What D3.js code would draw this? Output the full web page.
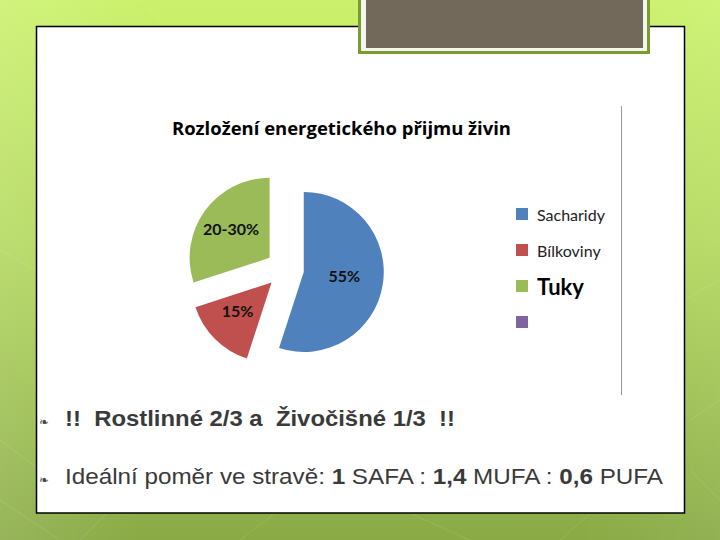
<!DOCTYPE html>
<html><head><meta charset="utf-8">
<script src="https://d3js.org/d3.v7.min.js"></script>
<style>html,body{margin:0;padding:0;overflow:hidden;background:#fff}</style>
</head><body>
<script>
const categories = ["Sacharidy", "Bílkoviny", "Tuky", ""];
const values = [55, 15, 30, 0];
const sliceLabels = ["55%", "15%", "20-30%", ""];
const colors = ["#4f81bd", "#c0504d", "#9bbb59", "#8064a2"];
const title = "Rozložení energetického přijmu živin";
const bullet1 = "!!  Rostlinné 2/3 a  Živočišné 1/3  !!";
const bullet2Parts = [["Ideální poměr ve stravě: ", false], ["1", true], [" SAFA : ", false], ["1,4", true], [" MUFA : ", false], ["0,6", true], [" PUFA", false]];

const W = 720, H = 540;
const svg = d3.select("body").append("svg").attr("width", W).attr("height", H);
const defs = svg.append("defs");
const g1 = defs.append("linearGradient").attr("id", "bg").attr("x1", 0).attr("y1", 0).attr("x2", 0).attr("y2", 1);
g1.append("stop").attr("offset", 0).attr("stop-color", "#cbf16c");
g1.append("stop").attr("offset", 0.45).attr("stop-color", "#b3d85e");
g1.append("stop").attr("offset", 1).attr("stop-color", "#89aa45");
const g2 = defs.append("linearGradient").attr("id", "side").attr("x1", 0).attr("y1", 0).attr("x2", 1).attr("y2", 0);
g2.append("stop").attr("offset", 0).attr("stop-color", "#ffffff").attr("stop-opacity", 0.12);
g2.append("stop").attr("offset", 0.2).attr("stop-color", "#ffffff").attr("stop-opacity", 0.0);
g2.append("stop").attr("offset", 0.8).attr("stop-color", "#ffffff").attr("stop-opacity", 0.0);
g2.append("stop").attr("offset", 1).attr("stop-color", "#ffffff").attr("stop-opacity", 0.08);

svg.append("rect").attr("width", W).attr("height", H).attr("fill", "url(#bg)");
svg.append("rect").attr("width", W).attr("height", H).attr("fill", "url(#side)");
const tex = svg.append("g").attr("stroke", "#ffffff").attr("stroke-opacity", 0.12).attr("stroke-width", 1).attr("fill", "none");
[[0,440,40,470],[0,500,60,540],[80,540,160,460],[240,540,330,470],[380,500,470,540],[560,540,640,470],[690,420,720,400],[690,470,720,500],[0,250,36,270],[684,300,720,280],[140,0,160,20],[440,30,470,10]].forEach(l=>{
  tex.append("line").attr("x1",l[0]).attr("y1",l[1]).attr("x2",l[2]).attr("y2",l[3]);
});

svg.append("rect").attr("x", 36.5).attr("y", 26.5).attr("width", 648).attr("height", 486.5)
  .attr("fill", "#ffffff").attr("stroke", "#000").attr("stroke-width", 1.5);

svg.append("rect").attr("x", 359.5).attr("y", -5).attr("width", 289).attr("height", 57.5)
  .attr("fill", "#f4f5ee").attr("stroke", "#7a9b30").attr("stroke-width", 3);
svg.append("rect").attr("x", 366).attr("y", 0).attr("width", 277).attr("height", 48).attr("fill", "#72695a");

svg.append("text").attr("x", 172).attr("y", 135).attr("textLength", 339).attr("lengthAdjust", "spacingAndGlyphs")
  .attr("font-family", "'Open Sans', Lato, sans-serif").attr("font-weight", "bold").attr("font-size", 18)
  .attr("fill", "#000").text(title);

const cx = 285, cy = 269, r = 80, explode = 19;
const pie = d3.pie().sort(null).value(d => d)(values);
const arc = d3.arc().innerRadius(0).outerRadius(r);
const pg = svg.append("g").attr("transform", `translate(${cx},${cy})`);
pie.forEach((p, i) => {
  if (p.value === 0) return;
  const mid = (p.startAngle + p.endAngle) / 2;
  const dx = Math.sin(mid) * explode, dy = -Math.cos(mid) * explode;
  pg.append("path").attr("d", arc(p)).attr("fill", colors[i]).attr("transform", `translate(${dx},${dy})`);
});
pie.forEach((p, i) => {
  if (p.value === 0) return;
  const mid = (p.startAngle + p.endAngle) / 2;
  const lr = explode + r * 0.55;
  pg.append("text").attr("x", Math.sin(mid) * lr - 3).attr("y", -Math.cos(mid) * lr - 3)
    .attr("text-anchor", "middle").attr("dominant-baseline", "central")
    .attr("font-family", "Lato, sans-serif").attr("font-weight", "bold").attr("font-size", 16)
    .attr("fill", "#111").text(sliceLabels[i]);
});

const ly = d3.scaleBand().domain(d3.range(categories.length)).range([196, 340]);
categories.forEach((c, i) => {
  const y = ly(i) + ly.bandwidth() / 2;
  svg.append("rect").attr("x", 516).attr("y", y - 6).attr("width", 12).attr("height", 12).attr("fill", colors[i]);
  const big = c === "Tuky";
  svg.append("text").attr("x", 537).attr("y", y).attr("dominant-baseline", "central")
    .attr("font-family", "Lato, sans-serif").attr("font-size", big ? 22 : 16)
    .attr("font-weight", big ? "bold" : "normal").attr("fill", big ? "#000" : "#222").text(c);
});

svg.append("line").attr("x1", 621.5).attr("x2", 621.5).attr("y1", 106).attr("y2", 395).attr("stroke", "#999").attr("stroke-width", 1);

function bulletGlyph(y) {
  svg.append("text").attr("x", 39).attr("y", y).attr("font-family", "DejaVu Sans").attr("font-size", 12)
    .attr("fill", "#444").text("❧");
}
bulletGlyph(426);
svg.append("text").attr("x", 65).attr("y", 426).attr("textLength", 390).attr("lengthAdjust", "spacingAndGlyphs")
  .attr("xml:space", "preserve").style("white-space", "pre")
  .attr("font-family", "'Liberation Sans', Arial, sans-serif").attr("font-weight", "bold").attr("font-size", 22)
  .attr("fill", "#3a3a3a").text(bullet1);
bulletGlyph(484);
const t2 = svg.append("text").attr("x", 65).attr("y", 484).attr("textLength", 598).attr("lengthAdjust", "spacingAndGlyphs")
  .attr("xml:space", "preserve").style("white-space", "pre")
  .attr("font-family", "'Liberation Sans', Arial, sans-serif").attr("font-size", 22).attr("fill", "#3a3a3a");
bullet2Parts.forEach(([s, b]) => t2.append("tspan").attr("font-weight", b ? "bold" : "normal").text(s));
</script>
</body></html>
